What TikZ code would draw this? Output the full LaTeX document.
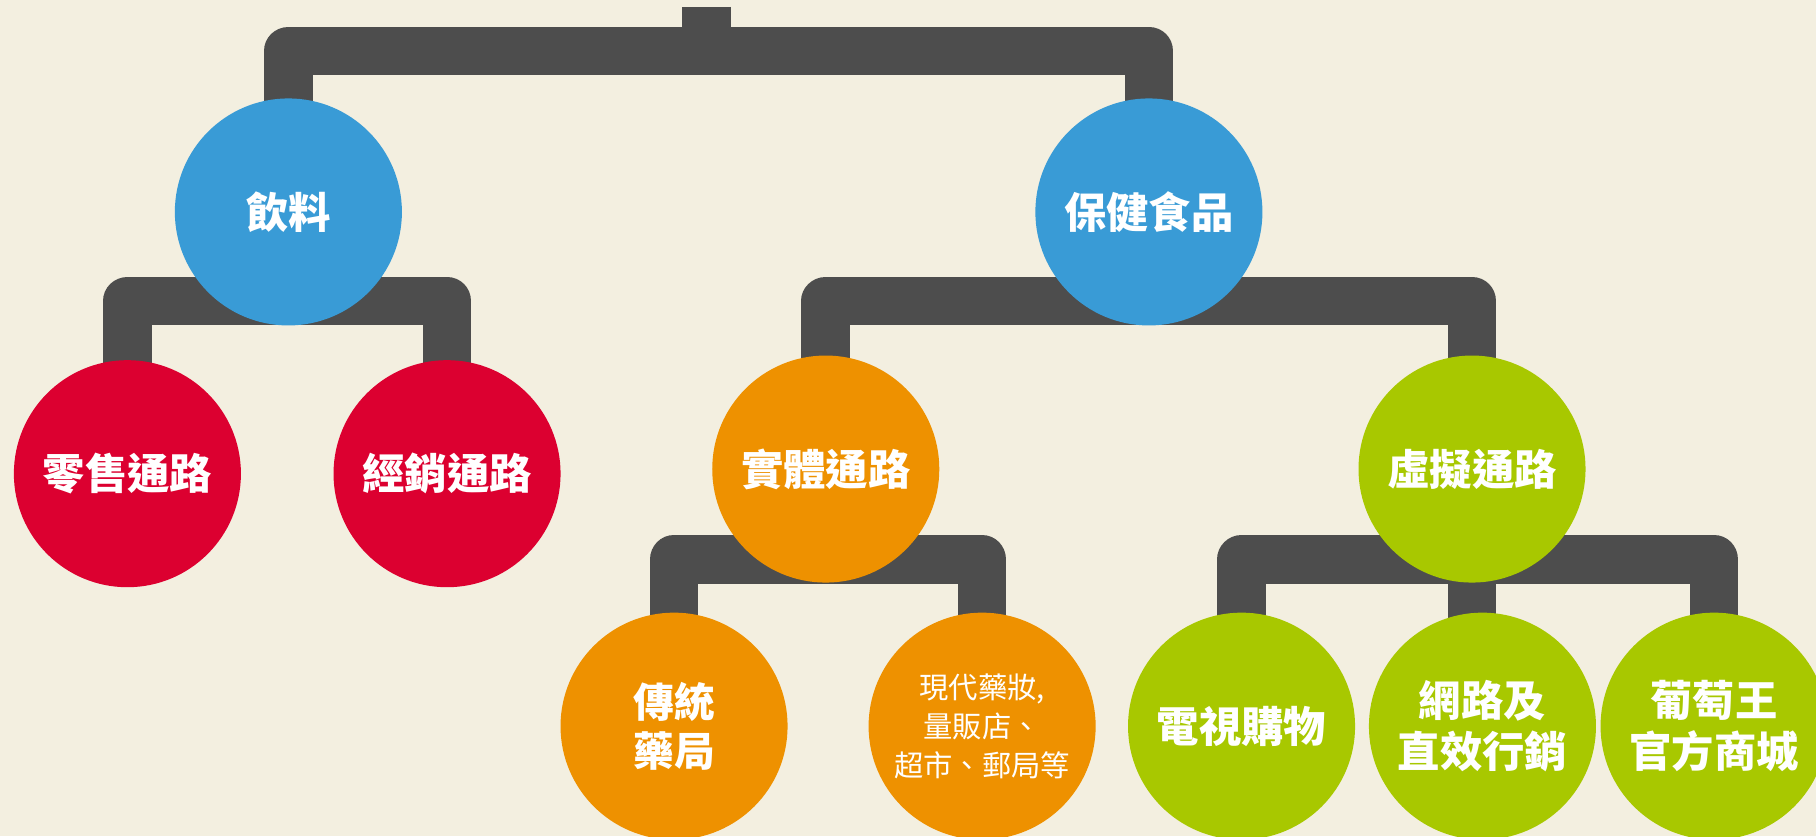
\documentclass[tikz,border=0pt]{standalone}
\usepackage{fontspec}
\setmainfont{Noto Sans CJK TC}
\usetikzlibrary{calc,backgrounds}
\pgfdeclarelayer{back}
\pgfsetlayers{back,background,main}
\definecolor{bgc}{HTML}{F3EFE0}
\definecolor{darkc}{HTML}{4D4D4D}
\definecolor{bluec}{HTML}{399BD6}
\definecolor{redc}{HTML}{DC0030}
\definecolor{orangec}{HTML}{EE9100}
\definecolor{greenc}{HTML}{A8C800}
\begin{document}
\begin{tikzpicture}[x=0.025cm,y=-0.025cm,
  circ/.style={circle,inner sep=0pt,minimum size=4.9cm,text=white,align=center},
  lab/.style={circ,font=\bfseries\fontsize{26}{31}\selectfont},
  lab2/.style={circ,font=\bfseries\fontsize{25}{30.5}\selectfont},
  smalllab/.style={circ,font=\fontsize{18}{24}\selectfont},
  conn/.style={draw=darkc,line width=1.05cm,line join=round}]
\useasboundingbox (0,0) rectangle (1568,722);
\begin{pgfonlayer}{back}
\fill[bgc] (0,0) rectangle (1568,722);
\end{pgfonlayer}
% level 1
\node[lab,fill=bluec] (yl) at (249,183) {飲料};
\node[lab,fill=bluec] (bj) at (992,183) {保健食品};
% level 2
\node[lab,fill=redc] (ls) at (110,409) {零售通路};
\node[lab,fill=redc] (jx) at (386,409) {經銷通路};
\node[lab,fill=orangec] (st) at (713,405) {實體通路};
\node[lab,fill=greenc] (xn) at (1271,405) {虛擬通路};
% level 3
\node[lab2,fill=orangec] (ct) at (582,627) {傳統\\藥局};
\node[smalllab,fill=orangec] (xd) at (848,627) {現代藥妝,\\量販店、\\超市、郵局等};
\node[lab,fill=greenc] (ds) at (1072,627) {電視購物};
\node[lab,fill=greenc] (wl) at (1280,627) {網路及\\直效行銷};
\node[lab,fill=greenc] (pt) at (1480,627) {葡萄王\\官方商城};
% connectors
\begin{pgfonlayer}{background}
\coordinate (root) at (610,6);
\coordinate (b0) at ($(yl.center)+(0,-139)$);
\draw[conn] (yl.center) -- (b0) -| (bj.center);
\draw[conn] (root) -- (root |- b0);
\coordinate (b1) at ($(yl.center)+(0,77)$);
\draw[conn] (ls.center) |- (b1) -| (jx.center);
\coordinate (b2) at ($(bj.center)+(0,77)$);
\draw[conn] (st.center) |- (b2) -| (xn.center);
\coordinate (b3) at ($(st.center)+(0,78)$);
\draw[conn] (ct.center) |- (b3) -| (xd.center);
\coordinate (b4) at ($(xn.center)+(0,78)$);
\draw[conn] (ds.center) |- (b4) -| (pt.center);
\draw[conn] (b4) -- (b4 |- wl.center);
\end{pgfonlayer}
\end{tikzpicture}
\end{document}
